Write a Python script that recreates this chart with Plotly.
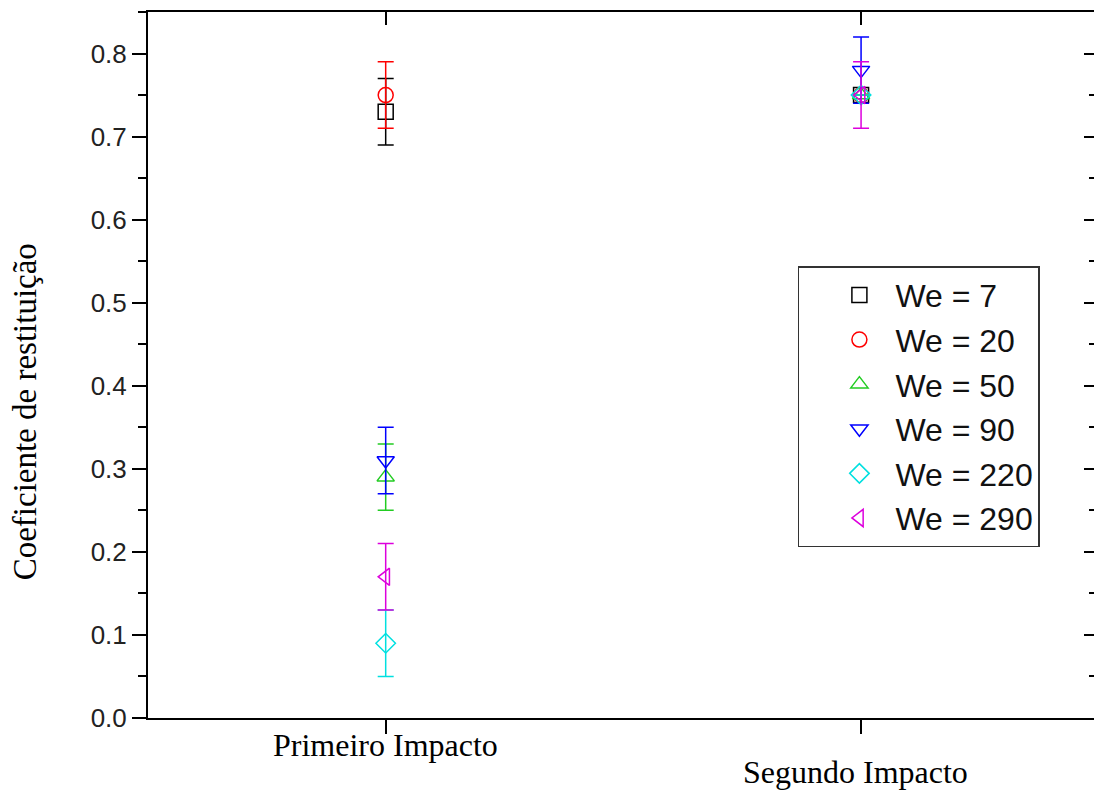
import plotly.graph_objects as go

categories = ["Primeiro Impacto", "Segundo Impacto"]
cat_pos = [1, 2]

we_labels = ["We = 7", "We = 20", "We = 50", "We = 90", "We = 220", "We = 290"]
primeiro = [0.73, 0.75, 0.29, 0.31, 0.09, 0.17]
primeiro_err = [0.04, 0.04, 0.04, 0.04, 0.04, 0.04]
segundo = [0.75, 0.75, 0.75, 0.78, 0.75, 0.75]
segundo_err = [None, None, None, 0.04, None, 0.04]

symbols = ["square-open", "circle-open", "triangle-up-open", "triangle-down-open", "diamond-open", "triangle-left-open"]
colors = ["#000000", "#ff0000", "#22cc22", "#0000ff", "#00e0e0", "#dd00dd"]

y_ticks = [0.0, 0.1, 0.2, 0.3, 0.4, 0.5, 0.6, 0.7, 0.8]

fig = go.Figure()
for i, name in enumerate(we_labels):
    fig.add_trace(go.Scatter(
        x=cat_pos, y=[primeiro[i], segundo[i]], mode="markers", name=name,
        marker=dict(symbol=symbols[i], size=15, color=colors[i], line=dict(width=1.5, color=colors[i])),
        error_y=dict(type="data", array=[primeiro_err[i], segundo_err[i]], visible=True,
                     color=colors[i], thickness=1.5, width=8),
    ))

# dummy trace for second y axis (right) and top axis
fig.add_trace(go.Scatter(x=[cat_pos[0]], y=[None], xaxis="x2", yaxis="y2", showlegend=False, hoverinfo="skip"))

axis_common = dict(showgrid=False, zeroline=False, linecolor="#000", linewidth=2, tickcolor="#000", tickwidth=2)

fig.update_layout(
    width=1094, height=791,
    margin=dict(l=148, r=0, t=12, b=73),
    paper_bgcolor="white", plot_bgcolor="white",
    xaxis=dict(range=[0.5, 2.49], tickvals=cat_pos, ticktext=["", ""], ticks="outside", ticklen=14,
               showline=True, **axis_common),
    xaxis2=dict(range=[0.5, 2.49], overlaying="x", side="top", tickvals=cat_pos, ticks="inside", ticklen=13,
                showticklabels=False, showline=True, **axis_common),
    yaxis=dict(range=[0, 0.85], tickvals=y_ticks, tickformat=".1f", ticks="outside", ticklen=14,
               showline=True, tickfont=dict(family="Liberation Sans, Arial", size=26, color="#222"),
               minor=dict(dtick=0.05, ticks="outside", ticklen=8, tickwidth=2, tickcolor="#000"),
               **axis_common),
    yaxis2=dict(range=[0, 0.85], overlaying="y", side="right", tickvals=y_ticks, ticks="inside", ticklen=10,
                showticklabels=False, showline=False,
                minor=dict(dtick=0.05, ticks="inside", ticklen=5, tickwidth=2, tickcolor="#000"),
                **{k: v for k, v in axis_common.items() if k not in ("linecolor", "linewidth")}),
    legend=dict(x=0.687, y=0.640, xanchor="left", yanchor="top", bgcolor="white",
                bordercolor="#333", borderwidth=1.5,
                font=dict(family="Liberation Sans, Arial", size=32, color="#111"),
                indentation=24, itemwidth=62, tracegroupgap=0),
    showlegend=True,
)

fig.add_annotation(text="Coeficiente de restituição", textangle=-90, xref="paper", yref="paper",
                   x=-0.130, y=0.433, xanchor="center", yanchor="middle", showarrow=False,
                   font=dict(family="Liberation Serif, Times New Roman", size=33, color="#000"))
label_shift = [-27, -54]
label_xshift = [0, -6]
for i, cat in enumerate(categories):
    fig.add_annotation(text=cat, xref="x", yref="paper", x=cat_pos[i], y=0, yanchor="middle",
                       yshift=label_shift[i], xshift=label_xshift[i], showarrow=False,
                       font=dict(family="Liberation Serif, Times New Roman", size=32, color="#000"))

fig.write_html("out.html")
